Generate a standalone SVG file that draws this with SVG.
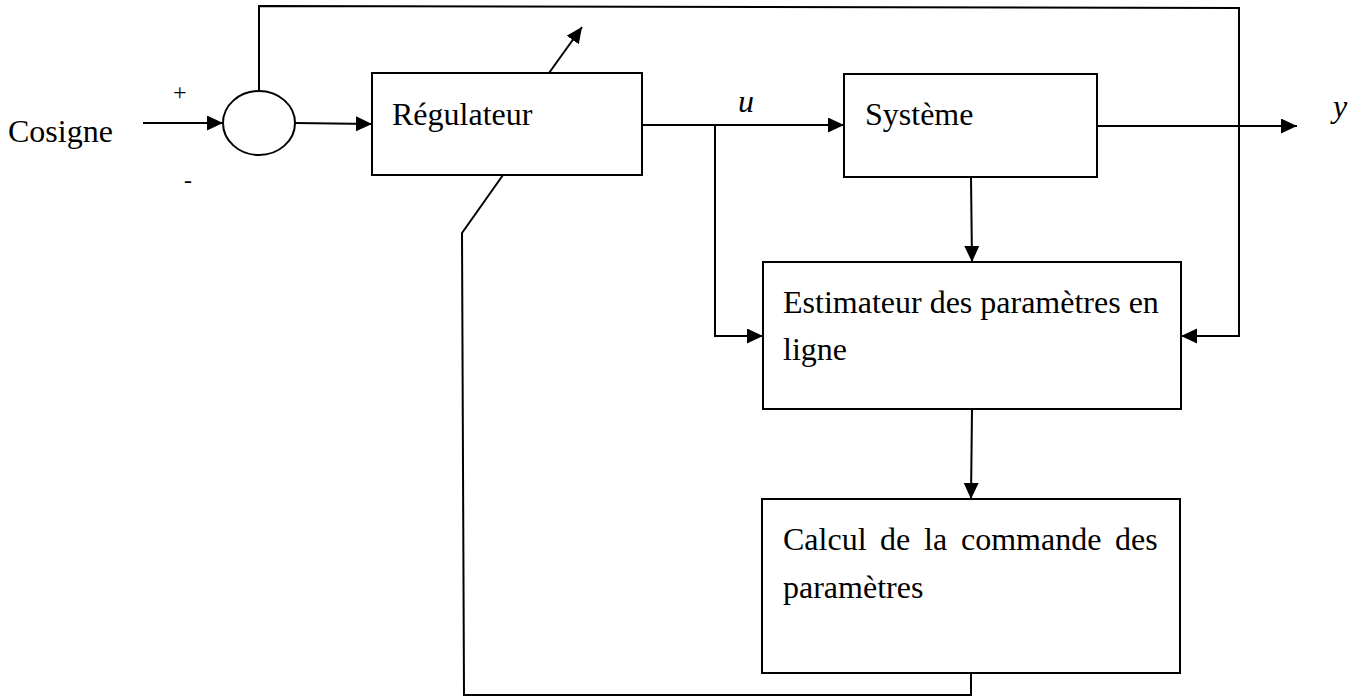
<svg xmlns="http://www.w3.org/2000/svg" width="1363" height="697" viewBox="0 0 1363 697">
<style>
.box{fill:#fff;stroke:#000;stroke-width:2}
.ln{fill:none;stroke:#000;stroke-width:2}
.t{font-family:'Liberation Serif','Times New Roman','DejaVu Serif',serif;font-size:32px;fill:#000}
.m{font-family:'Liberation Serif','Times New Roman','DejaVu Serif',serif;font-size:32px;font-style:italic;fill:#000}
.s{font-family:'Liberation Serif','Times New Roman','DejaVu Serif',serif;font-size:24px;fill:#000}
</style>
<defs>
<marker id="ah" markerUnits="userSpaceOnUse" markerWidth="16" markerHeight="16" refX="16" refY="7.5" orient="auto">
<path d="M0,0 L16,7.5 L0,15 z" fill="#000"/>
</marker>
</defs>
<rect width="1363" height="697" fill="#fff"/>
<g id="connectors">
<line class="ln" x1="143" y1="123" x2="223" y2="123" marker-end="url(#ah)"/>
<line class="ln" x1="295" y1="123" x2="372" y2="124" marker-end="url(#ah)"/>
<line class="ln" x1="642" y1="125" x2="844" y2="125" marker-end="url(#ah)"/>
<polyline class="ln" points="715,125 715,336 763,336" marker-end="url(#ah)"/>
<line class="ln" x1="1097" y1="126" x2="1297" y2="126" marker-end="url(#ah)"/>
<polyline class="ln" points="259,91 259,6 1239,8 1239,336 1181,336" marker-end="url(#ah)"/>
<line class="ln" x1="971" y1="177" x2="972" y2="262" marker-end="url(#ah)"/>
<line class="ln" x1="972" y1="409" x2="971" y2="499" marker-end="url(#ah)"/>
<polyline class="ln" points="971,673 971,695 464,695 462,233 503,175"/>
<line class="ln" x1="549" y1="73" x2="582" y2="27" marker-end="url(#ah)"/>
</g>
<g id="input">
<text class="t" x="8" y="142">Cosigne</text>
<text class="s" x="173" y="100">+</text>
<text class="s" x="184" y="188">-</text>
</g>
<g id="sum">
<ellipse class="box" cx="259" cy="123" rx="36" ry="32"/>
</g>
<g id="regulateur">
<rect class="box" x="372" y="73" width="270" height="102"/>
<text class="t" x="392" y="125">Régulateur</text>
</g>
<g id="u-label">
<text class="m" x="738" y="112">u</text>
</g>
<g id="systeme">
<rect class="box" x="844" y="74" width="253" height="103"/>
<text class="t" x="865" y="125">Système</text>
</g>
<g id="y-label">
<text class="m" x="1333" y="117">y</text>
</g>
<g id="estimateur">
<rect class="box" x="763" y="262" width="418" height="147"/>
<text class="t" x="783" y="313">Estimateur des paramètres en</text>
<text class="t" x="783" y="360">ligne</text>
</g>
<g id="calcul">
<rect class="box" x="762" y="499" width="418" height="174"/>
<text class="t" y="550"><tspan x="783">Calcul</tspan><tspan x="880">de</tspan><tspan x="924">la</tspan><tspan x="961">commande</tspan><tspan x="1115">des</tspan></text>
<text class="t" x="783" y="598">paramètres</text>
</g>
</svg>
